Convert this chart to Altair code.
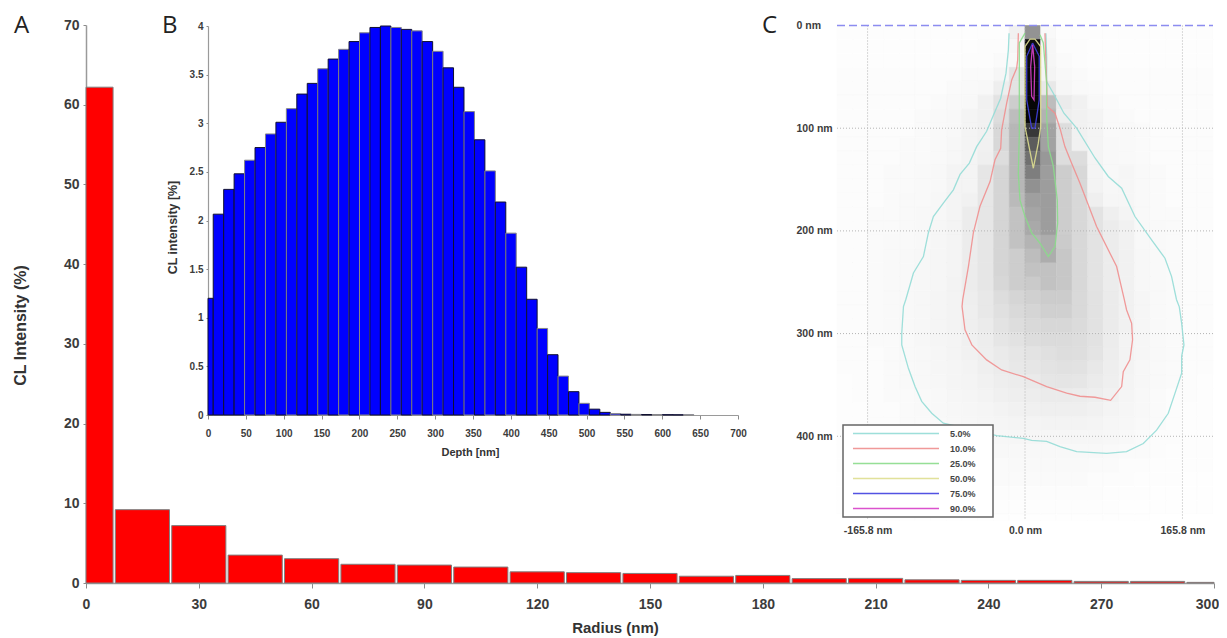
import altair as alt
import pandas as pd

W, H = 1211, 628
FONT = "Liberation Sans"

# Panel A
radius_start = [0, 7.8, 22.8, 37.8, 52.8, 67.8, 82.8, 97.8, 112.8, 127.8, 142.8, 157.8, 172.8, 187.8, 202.8, 217.8, 232.8, 247.8, 262.8, 277.8, 292.8]
radius_end = [7.2, 22.2, 37.2, 52.2, 67.2, 82.2, 97.2, 112.2, 127.2, 142.2, 157.2, 172.2, 187.2, 202.2, 217.2, 232.2, 247.2, 262.2, 277.2, 292.2, 300]
radius_values = [62.2, 9.2, 7.2, 3.5, 3.05, 2.35, 2.25, 2.0, 1.4, 1.3, 1.2, 0.85, 0.95, 0.55, 0.58, 0.4, 0.33, 0.33, 0.2, 0.2, 0.08]
radius_ticks = [0, 30, 60, 90, 120, 150, 180, 210, 240, 270, 300]
intensity_ticks = [0, 10, 20, 30, 40, 50, 60, 70]

# Panel B
depth_edges = [0, 6.9, 20.7, 34.5, 48.3, 62.1, 75.9, 89.7, 103.5, 117.3, 131.1, 144.9, 158.7, 172.5, 186.3, 200.1, 213.9, 227.7, 241.5, 255.3, 269.1, 282.9, 296.7, 310.5, 324.3, 338.1, 351.9, 365.7, 379.5, 393.3, 407.1, 420.9, 434.7, 448.5, 462.3, 476.1, 489.9, 503.7, 517.5, 531.3, 545.1, 558.9, 572.7, 586.5, 600.3, 614.1, 627.9, 641.7]
depth_values = [1.2, 2.065, 2.32, 2.48, 2.62, 2.75, 2.89, 3.01, 3.15, 3.30, 3.41, 3.56, 3.66, 3.76, 3.84, 3.93, 3.985, 4.0, 3.985, 3.965, 3.95, 3.84, 3.74, 3.57, 3.37, 3.12, 2.83, 2.51, 2.19, 1.87, 1.52, 1.19, 0.89, 0.62, 0.40, 0.24, 0.12, 0.06, 0.027, 0.014, 0.008, 0.006, 0.005, 0.004, 0.003, 0.002, 0.002]
depth_ticks = [0, 50, 100, 150, 200, 250, 300, 350, 400, 450, 500, 550, 600, 650, 700]
depth_y_ticks = [0, 0.5, 1, 1.5, 2, 2.5, 3, 3.5, 4]

# Panel C: darkness of each map cell (0 white .. 255 black), columns left to right, rows top to bottom
col_edges = [-198, -181.5, -165, -148.5, -132, -115.5, -99, -82.5, -66, -49.5, -33, -16.5, 0, 16.5, 33, 49.5, 66, 82.5, 99, 115.5, 132, 148.5, 165, 181.5, 198]
row_edges = [0, 13.6, 27.2, 40.8, 54.4, 68, 81.6, 95.2, 108.8, 122.4, 136, 149.6, 163.2, 176.8, 190.4, 204, 217.6, 231.2, 244.8, 258.4, 272, 285.6, 299.2, 312.8, 326.4, 340, 353.6, 367.2, 380.8, 394.4, 408, 421.6, 435.2, 448.8, 462.4, 476, 482]
map_rows = [
    [2, 2, 2, 2, 2, 2, 2, 2, 2, 2, 2, 12, 100, 5, 2, 2, 2, 2, 2, 2, 2, 2, 2, 2],
    [2, 2, 2, 2, 2, 2, 2, 2, 2, 3, 3, 8, 245, 8, 3, 3, 2, 2, 2, 2, 2, 2, 2, 2],
    [2, 2, 2, 2, 2, 2, 2, 2, 3, 3, 4, 6, 248, 8, 4, 3, 2, 2, 2, 2, 2, 2, 2, 2],
    [3, 3, 3, 3, 3, 3, 3, 3, 4, 4, 8, 25, 250, 10, 6, 4, 3, 3, 3, 3, 3, 3, 3, 3],
    [3, 3, 3, 3, 3, 3, 3, 4, 5, 6, 15, 25, 250, 20, 8, 5, 4, 3, 3, 3, 3, 3, 3, 3],
    [3, 3, 3, 3, 3, 3, 4, 5, 6, 12, 25, 45, 250, 60, 18, 12, 6, 4, 3, 3, 3, 3, 3, 3],
    [3, 3, 3, 3, 3, 4, 5, 6, 10, 12, 30, 60, 250, 70, 15, 12, 10, 5, 4, 3, 3, 3, 3, 3],
    [3, 3, 3, 3, 3, 4, 5, 6, 10, 12, 35, 65, 195, 85, 30, 12, 10, 5, 5, 4, 3, 3, 3, 3],
    [3, 3, 3, 3, 4, 4, 5, 7, 10, 12, 35, 65, 155, 85, 30, 12, 10, 6, 5, 4, 3, 3, 3, 3],
    [3, 3, 3, 3, 4, 4, 5, 7, 10, 14, 30, 65, 135, 95, 30, 30, 10, 6, 5, 4, 3, 3, 3, 3],
    [3, 3, 3, 4, 4, 5, 6, 10, 10, 22, 38, 65, 120, 90, 45, 35, 10, 6, 8, 5, 4, 3, 3, 3],
    [3, 3, 3, 4, 4, 5, 6, 10, 10, 22, 38, 65, 102, 90, 45, 35, 11, 7, 8, 5, 4, 3, 3, 3],
    [3, 3, 3, 4, 5, 5, 7, 10, 12, 22, 38, 62, 88, 90, 45, 35, 14, 8, 8, 5, 4, 3, 3, 3],
    [3, 3, 4, 4, 5, 6, 7, 10, 17, 22, 38, 55, 82, 90, 45, 35, 25, 14, 10, 5, 4, 4, 3, 3],
    [3, 3, 4, 4, 5, 6, 8, 10, 17, 22, 38, 55, 78, 90, 45, 35, 25, 17, 12, 6, 5, 4, 3, 3],
    [3, 3, 4, 5, 5, 6, 8, 10, 17, 22, 38, 55, 68, 75, 47, 35, 25, 17, 12, 6, 5, 4, 3, 3],
    [3, 3, 4, 5, 6, 7, 8, 10, 17, 22, 38, 45, 60, 75, 50, 35, 25, 17, 12, 7, 5, 4, 3, 3],
    [3, 3, 4, 5, 6, 7, 8, 10, 17, 22, 38, 45, 55, 55, 50, 35, 25, 17, 12, 7, 5, 4, 3, 3],
    [3, 3, 4, 5, 6, 7, 8, 11, 17, 22, 36, 45, 48, 55, 50, 35, 25, 17, 12, 7, 5, 4, 3, 3],
    [3, 3, 4, 5, 6, 7, 9, 11, 15, 20, 30, 38, 42, 46, 46, 34, 26, 18, 12, 8, 5, 4, 3, 3],
    [3, 3, 4, 5, 6, 7, 9, 11, 14, 20, 28, 34, 38, 42, 42, 34, 26, 18, 12, 8, 5, 4, 3, 3],
    [3, 3, 4, 5, 6, 7, 9, 11, 14, 18, 25, 30, 34, 36, 36, 32, 26, 18, 12, 8, 5, 4, 3, 3],
    [3, 3, 4, 4, 5, 7, 9, 10, 13, 16, 22, 26, 30, 32, 32, 30, 26, 17, 11, 8, 5, 4, 3, 3],
    [3, 3, 3, 4, 5, 6, 8, 10, 12, 15, 19, 22, 25, 28, 30, 29, 24, 16, 11, 8, 5, 4, 3, 3],
    [3, 3, 3, 4, 5, 6, 8, 9, 11, 14, 17, 20, 22, 25, 27, 26, 20, 15, 11, 7, 5, 4, 3, 3],
    [2, 3, 3, 4, 5, 6, 7, 9, 10, 12, 15, 17, 19, 22, 23, 22, 18, 14, 10, 7, 5, 4, 3, 2],
    [2, 3, 3, 4, 4, 5, 6, 8, 9, 11, 13, 15, 16, 18, 18, 17, 15, 12, 9, 6, 4, 3, 3, 2],
    [2, 2, 3, 3, 4, 5, 6, 7, 8, 9, 11, 12, 13, 14, 14, 14, 12, 10, 8, 6, 4, 3, 2, 2],
    [2, 2, 3, 3, 4, 4, 5, 6, 7, 8, 9, 10, 10, 11, 11, 11, 10, 8, 7, 5, 4, 3, 2, 2],
    [2, 2, 2, 3, 3, 4, 4, 5, 6, 6, 7, 8, 8, 8, 8, 8, 8, 7, 6, 4, 3, 3, 2, 2],
    [2, 2, 2, 2, 3, 3, 4, 4, 5, 5, 6, 6, 6, 6, 6, 6, 6, 5, 4, 4, 3, 2, 2, 2],
    [2, 2, 2, 2, 2, 3, 3, 3, 4, 4, 4, 5, 5, 5, 5, 5, 4, 4, 3, 3, 2, 2, 2, 2],
    [1, 1, 2, 2, 2, 2, 3, 3, 3, 3, 4, 4, 4, 4, 4, 4, 3, 3, 3, 2, 2, 2, 1, 1],
    [1, 1, 1, 1, 2, 2, 2, 2, 3, 3, 3, 3, 3, 3, 3, 3, 3, 2, 2, 2, 1, 1, 1, 1],
    [1, 1, 1, 1, 1, 1, 2, 2, 2, 2, 2, 2, 2, 2, 2, 2, 2, 2, 1, 1, 1, 1, 1, 1],
    [0, 0, 0, 1, 1, 1, 1, 1, 1, 1, 1, 1, 1, 1, 1, 1, 1, 1, 1, 1, 0, 0, 0, 0],
]
lateral_ticks = [-165.8, 0, 165.8]
vertical_ticks = [0, 100, 200, 300, 400]
surface = [-198, 198]

contour_levels = ["5.0%", "10.0%", "25.0%", "50.0%", "75.0%", "90.0%"]
contour_colors = ["#93dcd6", "#ef8f8f", "#8bdc8b", "#dede90", "#4040e0", "#d840c8"]

c5_x = [-16.8, -17.5, -20, -25.6, -31.6, -40.4, -50.9, -58.6, -68.4, -75.4, -86, -96.5, -101.8, -107, -117.5, -125.6, -128, -129.8, -129.8, -122.8, -115.8, -108.8, -98.2, -86, -29.8, -1.8, 7, 22.8, 36.8, 54.4, 86, 107, 124.6, 138.6, 150.9, 158, 165, 165, 167.4, 165, 162.5, 159.6, 154.4, 147.4, 133.3, 115.8, 101.8, 87.7, 73.7, 54.4, 41, 29.8, 22.8, 22.8, 22]
c5_y = [7.5, 23.7, 46.4, 70.8, 83.8, 103, 118, 134, 145, 160, 173, 186, 202, 225, 241, 267, 273.7, 299.7, 311, 333.8, 351.6, 366, 377.6, 387.3, 399.3, 402, 404, 405, 410, 415, 416.6, 415, 407, 394, 377.6, 358, 338.6, 322, 311, 290, 274, 267, 244.5, 226.6, 208.8, 186, 158.4, 147, 129, 100, 85.4, 66, 54.5, 30.2, 7.5]
c10_x = [-7, -7.7, -8.8, -14, -19.3, -24.6, -25.6, -31.6, -36.8, -47.4, -54.4, -59.6, -65.6, -66.3, -63.2, -56, -40.4, -24.6, -1.8, 22.8, 43.9, 57.9, 73.7, 90.2, 101.8, 103.5, 110.5, 113.3, 112.3, 107, 104.6, 96.5, 75.4, 57.9, 49, 42, 36.8, 31.6, 23.5, 22.8, 21]
c10_y = [7.5, 33.4, 41.6, 53, 75.6, 101.6, 119.5, 130.8, 152, 176, 202, 234.7, 267, 273.7, 296.4, 311, 325.6, 335.4, 342, 351.6, 358, 361, 362, 365, 351.6, 337, 325.6, 306, 290, 277, 267, 234.7, 195.8, 153.6, 134, 117.9, 100, 85.4, 78.9, 56, 7.5]
c25_x = [0, -6, -6, -6, -7, -5.3, 0, 7, 15.8, 24.6, 31.6, 34.4, 34, 29.8, 24.6, 22.8, 22.8, 19.3, 15.8]
c25_y = [7.5, 17, 56, 105, 144, 170, 186, 202, 212, 225, 215, 192.5, 170, 137, 118, 88.6, 56, 17, 9]
c50_x = [0, 0, 3.5, 8.8, 14, 16.5, 16.5, 10.5, 5.3, 0]
c50_y = [20.5, 98.4, 114.6, 139, 114.6, 98.4, 20.5, 13.3, 13.3, 20.5]
c75_x = [8, 1.8, 1.8, 7, 10.5, 15, 15, 8]
c75_y = [17, 30, 72.4, 100, 100, 72.4, 30, 17]
c90_x = [8, 6, 7, 9.5, 10.2, 8]
c90_y = [18.8, 40, 69, 72.4, 40, 18.8]
contour_xs = [c5_x, c10_x, c25_x, c50_x, c75_x, c90_x]
contour_ys = [c5_y, c10_y, c25_y, c50_y, c75_y, c90_y]

panel_letters = ["A", "B", "C"]

# ---- tables
bars_a = pd.DataFrame({"x0": radius_start, "x1": radius_end, "v": radius_values})
bars_b = pd.DataFrame({"x0": depth_edges[:-1], "x1": depth_edges[1:], "v": depth_values})
cells = pd.DataFrame([
    {"x0": col_edges[c], "x1": col_edges[c + 1], "y0": row_edges[r], "y1": row_edges[r + 1], "d": d}
    for r, row in enumerate(map_rows) for c, d in enumerate(row)
])
lines = pd.DataFrame([
    {"level": lev, "i": i, "x": x, "y": y}
    for lev, xs, ys in zip(contour_levels, contour_xs, contour_ys)
    for i, (x, y) in enumerate(zip(xs, ys))
])

# ---- scales (each panel has its own place on the canvas)
ax = alt.Scale(domain=[0, 300], range=[78, 1206], nice=False, zero=False)
ay = alt.Scale(domain=[0, 70], range=[575, 17], nice=False)
bx = alt.Scale(domain=[0, 700], range=[200, 730], nice=False, zero=False)
by = alt.Scale(domain=[0, 4], range=[407, 18], nice=False)
cx = alt.Scale(domain=[-198, 198], range=[829, 1205], nice=False, zero=False)
cy = alt.Scale(domain=[0, 482], range=[17.5, 512.5], nice=False, zero=False)

common = dict(labelFont=FONT, titleFont=FONT, labelFontWeight="bold", titleFontWeight="bold",
              labelColor="#3c3c3c", titleColor="#333333", grid=False, labelFlush=False,
              labelOverlap=False, labelBound=False, domainColor="#9a9a9a", tickColor="#8a8a8a")

panel_a = alt.Chart(bars_a).mark_rect(color="#ff0000", stroke="#808080", strokeWidth=1).encode(
    x=alt.X("x0:Q", scale=ax, axis=alt.Axis(
        orient="bottom", offset=-(H - 575), values=radius_ticks, title="Radius (nm)", labelFontSize=14,
        labelOffset=alt.expr("datum.value === 300 ? -7 : 0"),
        titleFontSize=15, labelPadding=9, titleX=607, titleY=44, titleBaseline="middle",
        tickSize=5, domainWidth=1.5, **common)),
    x2="x1:Q",
    y=alt.Y("v:Q", scale=ay, axis=alt.Axis(
        orient="left", offset=-78, values=intensity_ticks, title="CL Intensity (%)", labelFontSize=14,
        titleFontSize=16, labelPadding=4, titleX=-66, titleY=317, titleBaseline="middle",
        tickSize=3, domainWidth=1.5, **common)),
    y2=alt.datum(0),
)

panel_b = alt.Chart(bars_b).transform_calculate(
    tone="(datum.x0 - 6.9) / 13.8 - 1"
).transform_calculate(
    soft="(round(datum.tone) % 7 == 2 || round(datum.tone) % 7 == 4 || round(datum.tone) % 7 == 6) ? 1 : 0"
).mark_rect(color="#0000ff", strokeWidth=1).encode(
    x=alt.X("x0:Q", scale=bx, axis=alt.Axis(
        orient="bottom", offset=-(H - 407), values=depth_ticks, title="Depth [nm]", labelFontSize=10,
        titleFontSize=11, labelPadding=9, titleX=462, titleY=37, titleBaseline="middle",
        tickSize=4, domainWidth=1.2, **common)),
    x2="x1:Q",
    y=alt.Y("v:Q", scale=by, axis=alt.Axis(
        orient="left", offset=-200, values=depth_y_ticks, title="CL intensity [%]", labelFontSize=10,
        labelExpr="'' + datum.value",
        titleFontSize=12.4, labelPadding=3, titleX=-36, titleY=219, titleBaseline="middle",
        tickSize=2, domainWidth=1.2, **common)),
    y2=alt.datum(0),
    stroke=alt.condition("datum.soft == 1", alt.value("#858585"), alt.value("#101030")),
)

heat = alt.Chart(cells).mark_rect(strokeWidth=0.6).encode(
    x=alt.X("x0:Q", scale=cx, axis=alt.Axis(
        orient="bottom", offset=-(H - 513), values=lateral_ticks, title=None, ticks=False, domain=False,
        labelExpr="(datum.value < 0 ? '-' : '') + format(abs(datum.value), '.1f') + ' nm'",
        labelFontSize=10.5, labelPadding=4, **common)),
    x2="x1:Q",
    y=alt.Y("y0:Q", scale=cy, axis=alt.Axis(
        orient="left", offset=-829, values=vertical_ticks, title=None, ticks=False, domain=False,
        labelExpr="datum.value + ' nm'", labelFontSize=10.5, labelPadding=41, labelAlign="left", **common)),
    y2="y1:Q",
    color=alt.Color("d:Q", scale=alt.Scale(domain=[0, 255], range=["#ffffff", "#000000"]), legend=None),
    stroke=alt.Stroke("d:Q", scale=alt.Scale(domain=[0, 255], range=["#ffffff", "#000000"]), legend=None),
)

grid_v = alt.Chart(pd.DataFrame({"x": lateral_ticks})).mark_rule(
    color="#b4b4b4", strokeWidth=1, strokeDash=[1, 2]).encode(
    x=alt.X("x:Q", scale=cx, axis=None), y=alt.Y(datum=0, scale=cy, axis=None), y2=alt.datum(482))
grid_h = alt.Chart(pd.DataFrame({"y": vertical_ticks[1:]})).mark_rule(
    color="#b4b4b4", strokeWidth=1, strokeDash=[1, 2]).encode(
    y=alt.Y("y:Q", scale=cy, axis=None), x=alt.X(datum=surface[0], scale=cx, axis=None), x2=alt.datum(surface[1]))
surface_line = alt.Chart(pd.DataFrame({"y": [0]})).mark_rule(
    color="#8c8cf0", strokeWidth=1.6, strokeDash=[8, 4]).encode(
    y=alt.Y("y:Q", scale=cy, axis=None), x=alt.X(datum=surface[0], scale=cx, axis=None), x2=alt.datum(surface[1]))

contours = alt.Chart(lines).mark_line(strokeWidth=1.3, opacity=0.9).encode(
    x=alt.X("x:Q", scale=cx, axis=None),
    y=alt.Y("y:Q", scale=cy, axis=None),
    order="i:Q",
    color=alt.Color("level:N", scale=alt.Scale(domain=contour_levels, range=contour_colors),
                    legend=alt.Legend(orient="none", legendX=835, legendY=417, title="\u00a0", zindex=1,
                                      titleOrient="right", titlePadding=16, titleFontSize=9,
                                      symbolType="stroke", symbolSize=7400, symbolStrokeWidth=1.5,
                                      symbolOffset=8,
                                      labelFont=FONT, labelFontWeight="bold", labelFontSize=9,
                                      labelColor="#444444", labelOffset=10, rowPadding=0, clipHeight=15,
                                      padding=1, fillColor="#ffffff", strokeColor="#666666")),
)

letters = [
    alt.Chart(pd.DataFrame({"t": [t]})).mark_text(
        font="Open Sans", fontSize=24, color="#222222", align="left", baseline="middle"
    ).encode(text="t:N", x=alt.value(px), y=alt.value(py))
    for t, px, py in zip(panel_letters, [6, 154, 754], [18, 18, 18])
]

chart = alt.layer(panel_a, panel_b, heat, grid_v, grid_h, surface_line, contours, *letters).resolve_scale(
    x="independent", y="independent", color="independent", stroke="independent"
).resolve_axis(x="independent", y="independent").properties(
    width=W, height=H, padding=0, autosize=alt.AutoSizeParams(type="none"), background="#ffffff"
).configure_view(stroke=None).configure_legend(strokeWidth=1.5)

chart.save("out.html", embed_options={"renderer": "svg", "actions": False})
